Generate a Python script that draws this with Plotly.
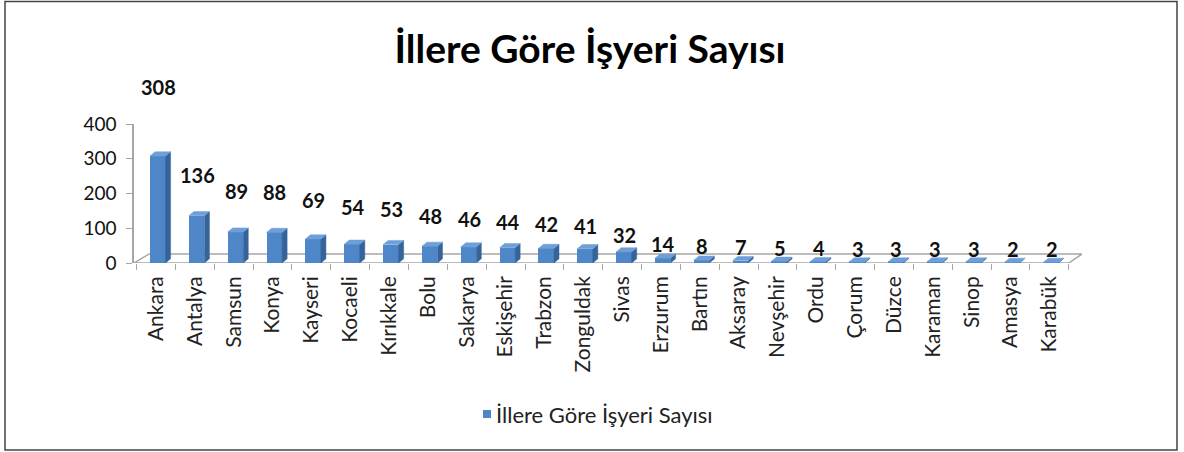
import numpy as np
import plotly.graph_objects as go

# ---- data ----
cities = ["Ankara", "Antalya", "Samsun", "Konya", "Kayseri", "Kocaeli", "Kırıkkale", "Bolu",
          "Sakarya", "Eskişehir", "Trabzon", "Zonguldak", "Sivas", "Erzurum", "Bartın", "Aksaray",
          "Nevşehir", "Ordu", "Çorum", "Düzce", "Karaman", "Sinop", "Amasya", "Karabük"]
counts = [308, 136, 89, 88, 69, 54, 53, 48, 46, 44, 42, 41, 32, 14, 8, 7, 5, 4, 3, 3, 3, 3, 2, 2]
series_name = "İllere Göre İşyeri Sayısı"
y_ticks = [0, 100, 200, 300, 400]

# ---- layout constants ----
W, H = 1184, 452
ML, MR, MT, MB = 134, 102, 124, 189
FONT = "Lato"
FRONT = "#4F86C8"
SIDE = "#35649C"
TOP = "#6E9FD8"
n = len(cities)
x_lo, x_hi = -0.567, n - 1 + 0.84
bar_off, bar_w = -0.155, 0.40
dx, dy = 0.13, 12.0   # pseudo-3D depth (x units, y units)
pw = W - ML - MR
ph = H - MT - MB

# label offset (px) above a bar, mimicking the 3D perspective placement
LBL_V = [0, 30, 41, 48, 54, 90, 140, 310]
LBL_S = [13, 16, 23, 30, 37, 41, 41, 69]

xs = list(range(n))
fig = go.Figure()

# front faces
fig.add_trace(go.Bar(x=xs, y=counts, width=bar_w, offset=bar_off, name=series_name,
                     marker=dict(color=FRONT, line=dict(width=0)), showlegend=False,
                     hoverinfo="skip"))

# side + top faces
sx, sy, tx, ty = [], [], [], []
for c, v in zip(xs, counts):
    xl, xr = c + bar_off, c + bar_off + bar_w
    sx += [xr, xr + dx, xr + dx, xr, xr, None]
    sy += [0, dy, v + dy, v, 0, None]
    tx += [xl, xl + dx, xr + dx, xr, xl, None]
    ty += [v, v + dy, v + dy, v, v, None]
fig.add_trace(go.Scatter(x=sx, y=sy, mode="lines", fill="toself", fillcolor=SIDE,
                         line=dict(width=0.5, color=SIDE), showlegend=False, hoverinfo="skip"))
fig.add_trace(go.Scatter(x=tx, y=ty, mode="lines", fill="toself", fillcolor=TOP,
                         line=dict(width=0.5, color=TOP), showlegend=False, hoverinfo="skip"))

# data labels
for c, v in zip(xs, counts):
    fig.add_annotation(x=c + 0.06, y=v, text=f"<b>{v}</b>", showarrow=False,
                       yshift=float(np.interp(v, LBL_V, LBL_S)),
                       font=dict(family=FONT, size=20, color="#111"))

# floor (pseudo-3D)
floor_depth = 26
fx_front_r = n - 0.5
path = (f"M {x_lo},0 L {x_lo + 0.39},{floor_depth} L {x_hi},{floor_depth} "
        f"L {fx_front_r},0 Z")
fig.add_shape(type="path", path=path, xref="x", yref="y", layer="below",
              line=dict(color="#A6A6A6", width=1.5), fillcolor="white")

# legend (symbol + text)
leg_y = -(414 - (H - MB)) / ph
fig.add_shape(type="rect", xref="paper", yref="paper",
              x0=(483 - ML) / pw, x1=(491 - ML) / pw,
              y0=leg_y - 4 / ph, y1=leg_y + 4 / ph,
              fillcolor=FRONT, line=dict(width=0))
fig.add_annotation(xref="paper", yref="paper", x=(494 - ML) / pw, y=leg_y,
                   xanchor="left", yanchor="middle", showarrow=False, text=series_name,
                   font=dict(family=FONT, size=22, color="#222"))

# outer chart border
fig.add_shape(type="rect", xref="paper", yref="paper",
              x0=(5 - ML) / pw, x1=(1177 - ML) / pw,
              y0=-(450 - (H - MB)) / ph, y1=((H - MB) - 1.5) / ph,
              line=dict(color="#444", width=1.5), layer="below")

fig.update_layout(
    width=W, height=H,
    margin=dict(l=ML, r=MR, t=MT, b=MB, autoexpand=False),
    paper_bgcolor="white", plot_bgcolor="white",
    font=dict(family=FONT, color="#111"),
    title=dict(text=f"<b>{series_name}</b>", x=590 / W, xanchor="center",
               y=1 - 49 / H, yanchor="middle", yref="container",
               font=dict(family=FONT, size=39, color="#000")),
    showlegend=False,
    bargap=0,
)
fig.update_xaxes(range=[x_lo, x_hi], tickvals=xs, ticktext=cities, tickangle=-90,
                 ticks="", showline=False, showgrid=False, zeroline=False, automargin=False,
                 tickfont=dict(family=FONT, size=21, color="#222"), ticklabelstandoff=8,
                 minor=dict(tick0=0.5, dtick=1, ticks="outside", ticklen=6,
                            tickcolor="#A6A6A6", showgrid=False))
fig.update_yaxes(range=[0, 400], tickvals=y_ticks, showgrid=False, zeroline=False,
                 showline=True, linecolor="#A6A6A6", linewidth=1.5, automargin=False,
                 ticks="outside", ticklen=6, tickcolor="#A6A6A6", ticklabelstandoff=6,
                 tickfont=dict(family=FONT, size=19, color="#111"))

fig.write_html("out.html", config={"displayModeBar": False},
               post_script="document.body.style.margin='0';document.body.style.overflow='hidden';")
